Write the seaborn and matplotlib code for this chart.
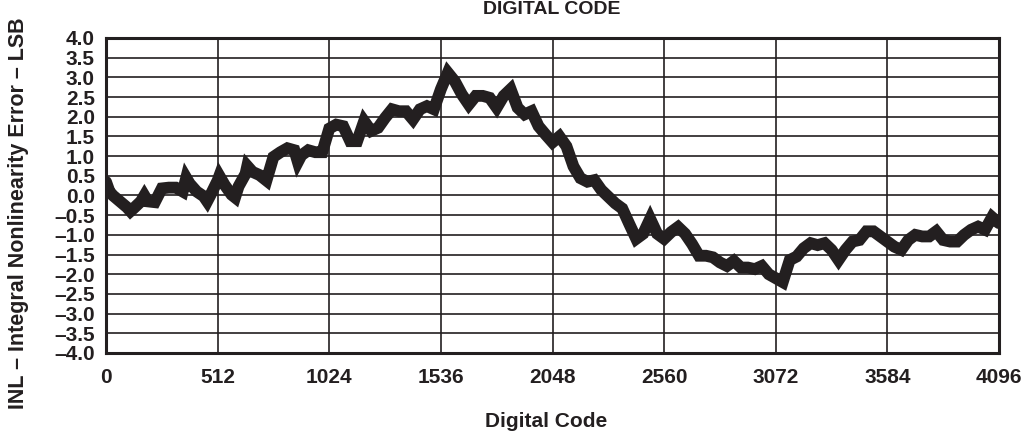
import numpy as np
import pandas as pd
import matplotlib
matplotlib.use('Agg')
import matplotlib.pyplot as plt
import seaborn as sns

# INL curve (about every 32 codes, plus a few spikes)
codes = [
    0, 16, 32, 64, 96, 112, 128, 160, 176, 192, 224, 256, 288, 320, 352, 368, 384, 416, 448, 464, 480,
    512, 520, 544, 576, 592, 608, 640, 648, 672, 704, 736, 768, 800, 832, 864, 880, 896, 928, 960, 992,
    1024, 1056, 1088, 1120, 1152, 1184, 1216, 1248, 1280, 1312, 1344, 1376, 1408, 1440, 1472, 1504,
    1536, 1568, 1600, 1632, 1664, 1696, 1728, 1760, 1792, 1824, 1856, 1888, 1920, 1952, 1984, 2016,
    2048, 2080, 2112, 2144, 2176, 2208, 2240, 2272, 2304, 2336, 2368, 2400, 2432, 2464, 2496, 2528,
    2560, 2592, 2624, 2656, 2688, 2720, 2752, 2784, 2816, 2848, 2880, 2912, 2944, 2976, 3008, 3040,
    3072, 3104, 3136, 3168, 3200, 3232, 3264, 3296, 3328, 3360, 3392, 3424, 3456, 3488, 3520, 3552,
    3584, 3616, 3648, 3680, 3712, 3744, 3776, 3808, 3840, 3872, 3904, 3936, 3968, 4000, 4032, 4064,
    4095,
]
inl = [
    0.35, 0.10, 0.00, -0.15, -0.30, -0.40, -0.32, -0.15, 0.00, -0.15, -0.17, 0.18, 0.20, 0.20, 0.10, 0.45, 0.30, 0.10, -0.02, -0.15, 0.02,
    0.38, 0.50, 0.27, 0.02, -0.05, 0.23, 0.55, 0.75, 0.60, 0.52, 0.38, 0.98, 1.10, 1.20, 1.15, 0.85, 1.02, 1.15, 1.10, 1.10,
    1.70, 1.80, 1.76, 1.38, 1.38, 1.89, 1.64, 1.72, 1.97, 2.19, 2.14, 2.14, 1.93, 2.19, 2.27, 2.19,
    2.70, 3.12, 2.90, 2.57, 2.31, 2.53, 2.53, 2.48, 2.23, 2.53, 2.70, 2.23, 2.06, 2.14, 1.76, 1.55,
    1.35, 1.50, 1.25, 0.74, 0.44, 0.35, 0.39, 0.14, -0.03, -0.20, -0.33, -0.72, -1.10, -0.97, -0.59, -0.97,
    -1.10, -0.93, -0.80, -0.97, -1.23, -1.53, -1.53, -1.57, -1.70, -1.79, -1.66, -1.83, -1.83, -1.87, -1.79, -2.00,
    -2.10, -2.20, -1.64, -1.55, -1.34, -1.21, -1.26, -1.21, -1.38, -1.64, -1.38, -1.17, -1.13, -0.91, -0.91, -1.04,
    -1.17, -1.30, -1.38, -1.13, -1.00, -1.04, -1.04, -0.91, -1.13, -1.17, -1.17, -1.00, -0.87, -0.79, -0.87, -0.55,
    -0.70,
]

x_ticks = [0, 512, 1024, 1536, 2048, 2560, 3072, 3584, 4096]
y_ticks = [-4.0, -3.5, -3.0, -2.5, -2.0, -1.5, -1.0, -0.5, 0.0, 0.5, 1.0, 1.5, 2.0, 2.5, 3.0, 3.5, 4.0]

sns.set_style('white')
plt.rcParams['font.family'] = ['Liberation Sans', 'DejaVu Sans']
plt.rcParams['font.weight'] = 'bold'

ink = '#231f20'
df = pd.DataFrame({'code': codes, 'inl': inl})

fig = plt.figure(figsize=(10.34, 4.36), dpi=100)
ax = fig.add_axes([106 / 1034, 1 - 353 / 436, 893 / 1034, 315 / 436])

sns.lineplot(data=df, x='code', y='inl', ax=ax, color=ink, linewidth=8.5,
             solid_joinstyle='miter')

ax.set_xlim(0, 4096)
ax.set_ylim(-4, 4)
ax.set_xticks(x_ticks)
ax.set_yticks(y_ticks)
ax.set_xticklabels([str(t) for t in x_ticks], fontsize=15, fontweight='bold', color=ink)
ax.set_yticklabels([f'{t:.1f}'.replace('-', '\u2013') for t in y_ticks],
                   fontsize=15, fontweight='bold', color=ink)
ax.tick_params(axis='y', length=0, pad=8)
ax.tick_params(axis='x', length=0, pad=11)
ax.grid(True, color=ink, linewidth=1.2)
for s in ax.spines.values():
    s.set_linewidth(2.2)
    s.set_color(ink)
ax.set_xlabel('')
ax.set_ylabel('')

fig.text(0.534, 1 - 9 / 436, 'DIGITAL CODE', ha='center', va='center',
         fontsize=14, fontweight='bold', color=ink)
fig.text(0.528, 1 - 421 / 436, 'Digital Code', ha='center', va='center',
         fontsize=15, fontweight='bold', color=ink)
fig.text(19 / 1034, 1 - 213 / 436, 'INL \u2013 Integral Nonlinearity Error \u2013 LSB',
         ha='center', va='center', rotation=90, fontsize=15.5, fontweight='bold', color=ink)

fig.savefig('out.png', dpi=100)
plt.close(fig)
